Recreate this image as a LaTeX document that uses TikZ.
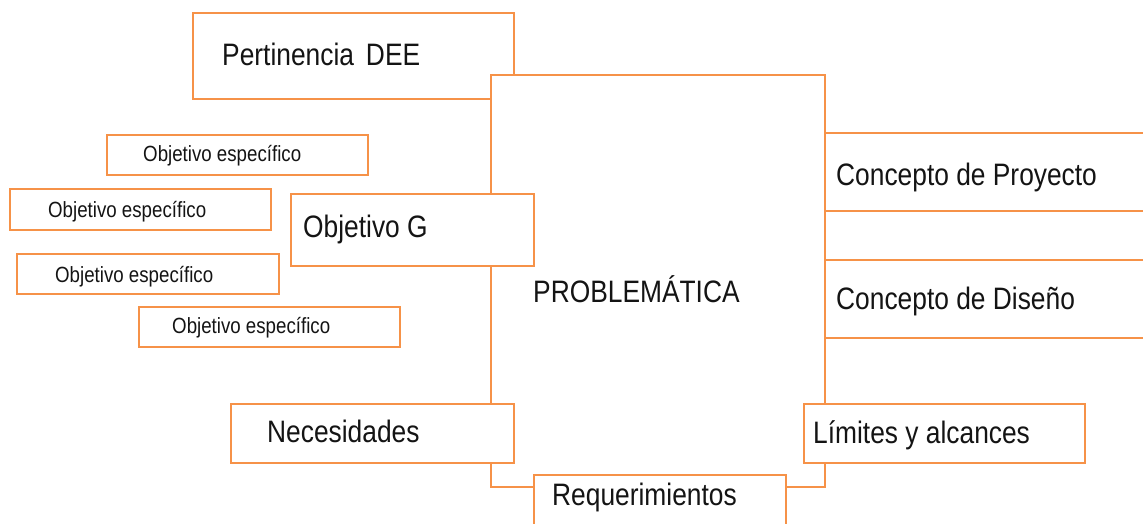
\documentclass[tikz,border=0pt]{standalone}
\usepackage{fontspec}
\setmainfont{Liberation Sans}[FakeStretch=0.85]
\definecolor{lineor}{RGB}{246,146,72}
\definecolor{txt}{RGB}{20,20,20}
\begin{document}
\begin{tikzpicture}[x=1pt,y=-1pt,
  box/.style={draw=lineor,line width=1.5pt,fill=white,rectangle,inner sep=0pt,anchor=north west},
  big/.style={anchor=base west,inner sep=0pt,text=txt,font=\fontsize{31}{31}\selectfont},
  small/.style={anchor=base west,inner sep=0pt,text=txt,font=\fontsize{22}{22}\selectfont}]
\useasboundingbox (0,0) rectangle (1143,523);
\clip (0,0) rectangle (1143,523);
\fill[white] (0,0) rectangle (1143,523);
% boxes (back to front)
\node[box,minimum width=321pt,minimum height=86pt] (pert) at (192,12) {};
\node[box,minimum width=400pt,minimum height=78pt] (cproy) at (810,132) {};
\node[box,minimum width=400pt,minimum height=78pt] (cdis) at (810,259) {};
\node[box,minimum width=334pt,minimum height=412pt] (main) at (490,74) {};
\node[box,minimum width=243pt,minimum height=72pt] (objg) at (290,193) {};
\node[box,minimum width=283pt,minimum height=59pt] (nec) at (230,403) {};
\node[box,minimum width=281pt,minimum height=59pt] (lim) at (803,403) {};
\node[box,minimum width=252pt,minimum height=80pt] (req) at (533,474) {};
\node[box,minimum width=261pt,minimum height=40pt] (oe1) at (106,134) {};
\node[box,minimum width=261pt,minimum height=41pt] (oe2) at (9,188) {};
\node[box,minimum width=262pt,minimum height=40pt] (oe3) at (16,253) {};
\node[box,minimum width=261pt,minimum height=40pt] (oe4) at (138,306) {};
% texts
\node[big] (pertT) at (222,65) {Pertinencia\hspace{12pt}DEE};
\node[big] (objgT) at (303,237) {Objetivo G};
\node[big] (mainT) at (533,302) {PROBLEMÁTICA};
\node[big] (cproyT) at (836,185) {Concepto de Proyecto};
\node[big] (cdisT) at (836,309) {Concepto de Diseño};
\node[big] (necT) at (267,442) {Necesidades};
\node[big] (limT) at (813,443) {Límites y alcances};
\node[big] (reqT) at (552,505) {Requerimientos};
\node[small] (oe1T) at (143,161) {Objetivo específico};
\node[small] (oe2T) at (48,217) {Objetivo específico};
\node[small] (oe3T) at (55,282) {Objetivo específico};
\node[small] (oe4T) at (172,333) {Objetivo específico};
\end{tikzpicture}
\end{document}
